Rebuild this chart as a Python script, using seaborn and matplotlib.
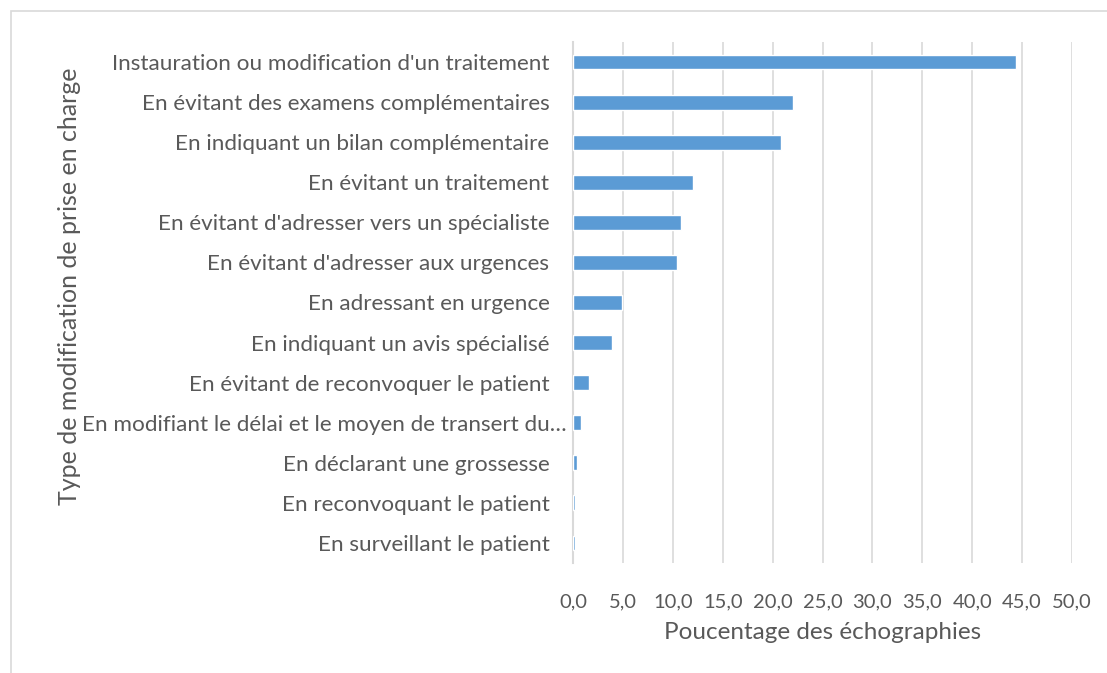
import matplotlib.pyplot as plt
import matplotlib.patches as patches
import seaborn as sns
import pandas as pd
from matplotlib.ticker import FuncFormatter

categories = [
    "Instauration ou modification d'un traitement",
    "En évitant des examens complémentaires",
    "En indiquant un bilan complémentaire",
    "En évitant un traitement",
    "En évitant d'adresser vers un spécialiste",
    "En évitant d'adresser aux urgences",
    "En adressant en urgence",
    "En indiquant un avis spécialisé",
    "En évitant de reconvoquer le patient",
    "En modifiant le délai et le moyen de transert du…",
    "En déclarant une grossesse",
    "En reconvoquant le patient",
    "En surveillant le patient",
]
percentages = [44.4, 22.0, 20.8, 12.0, 10.8, 10.4, 4.9, 3.9, 1.6, 0.8, 0.4, 0.2, 0.2]

df = pd.DataFrame({"type": categories, "pct": percentages})

sns.set_style("white")
plt.rcParams['font.family'] = ['Lato', 'DejaVu Sans']
text_color = "#595959"
grid_color = "#D9D9D9"

fig = plt.figure(figsize=(11.07, 6.73), dpi=100)
# outer chart border
fig.patches.append(patches.Rectangle((11/1107, -0.05), 1.1, 1 - 11/673 + 0.05,
                                     transform=fig.transFigure, fill=False,
                                     edgecolor=grid_color, linewidth=1.2))
ax = fig.add_axes([573/1107, 110/673, 499/1107, 521/673])

sns.barplot(data=df, y="type", x="pct", orient="h", color="#5B9BD5",
            saturation=1, width=0.37, ax=ax, zorder=3)

ax.set_xlim(0, 50)
ax.set_xticks(range(0, 51, 5))
ax.xaxis.set_major_formatter(FuncFormatter(lambda v, p: f"{v:.1f}".replace(".", ",")))
ax.grid(axis="x", color=grid_color, linewidth=1.2, zorder=0)
for s in ["top", "right", "bottom"]:
    ax.spines[s].set_visible(False)
ax.spines["left"].set_color(grid_color)
ax.spines["left"].set_linewidth(1.5)

ax.tick_params(axis="x", length=0, pad=22, labelsize=14.5, labelcolor=text_color)
ax.tick_params(axis="y", length=0, pad=17, labelsize=16.2, labelcolor=text_color)

# truncated label sits a bit further right, like in Excel
for lbl in ax.get_yticklabels():
    if lbl.get_text().endswith("…"):
        lbl.set_x(17 / 499)

ax.set_xlabel("Poucentage des échographies", fontsize=17.5, color=text_color, labelpad=8)
ax.set_ylabel("")
fig.text(70/1107, 1 - 286/673, "Type de modification de prise en charge", rotation=90,
         ha="center", va="center", fontsize=18, color=text_color)

plt.savefig("out.png", dpi=100)
